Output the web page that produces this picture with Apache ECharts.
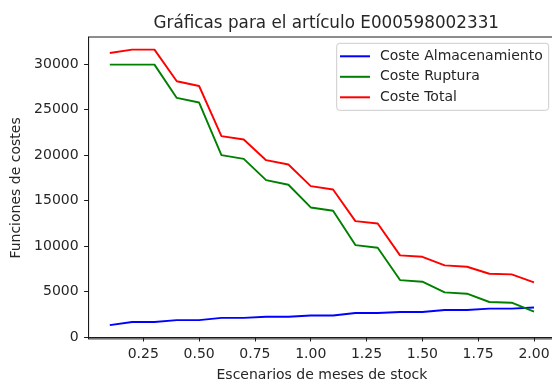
<!DOCTYPE html>
<html>
<head>
<meta charset="utf-8">
<script src="https://cdn.jsdelivr.net/npm/echarts@6/dist/echarts.min.js"></script>
<style>
  html, body { margin: 0; padding: 0; background: #ffffff; }
  #chart { width: 552px; height: 381px; }
</style>
</head>
<body>
<div id="chart"></div>
<script>
// Stock-month scenarios (x) and the three cost curves
const scenarios = [0.1, 0.2, 0.3, 0.4, 0.5, 0.6, 0.7, 0.8, 0.9, 1.0,
                   1.1, 1.2, 1.3, 1.4, 1.5, 1.6, 1.7, 1.8, 1.9, 2.0];
const costeAlmacenamiento = [1300, 1650, 1650, 1850, 1850, 2100, 2100, 2220, 2220, 2360,
                             2360, 2640, 2640, 2750, 2750, 2970, 2970, 3120, 3120, 3250];
const costeRuptura = [29960, 29960, 29960, 26300, 25790, 20000, 19590, 17250, 16750, 14250,
                      13880, 10110, 9810, 6260, 6080, 4910, 4760, 3850, 3770, 2780];
const costeTotal = [31240, 31610, 31610, 28130, 27610, 22090, 21720, 19450, 18980, 16590,
                    16230, 12750, 12490, 8980, 8820, 7880, 7730, 6960, 6890, 6010];

const titleText = 'Gráficas para el artículo E000598002331';
const xLabel = 'Escenarios de meses de stock';
const yLabel = 'Funciones de costes';

const FONT = 'DejaVu Sans';
const INK = '#262626';
const SPINE = '#1a1a1a';

function pairs(values) {
  return scenarios.map((x, i) => [x, values[i]]);
}

function lineSeries(name, values, color) {
  return {
    name: name,
    type: 'line',
    data: pairs(values),
    symbol: 'none',
    lineStyle: { color: color, width: 1.9 },
    itemStyle: { color: color },
    emphasis: { disabled: true },
    animation: false
  };
}

const chart = echarts.init(document.getElementById('chart'), null, { renderer: 'canvas' });

chart.setOption({
  backgroundColor: '#ffffff',
  animation: false,
  title: {
    text: titleText,
    left: 321.3,
    textAlign: 'center',
    top: 10,
    textStyle: { fontFamily: FONT, fontSize: 16.8, fontWeight: 'normal', color: INK }
  },
  legend: {
    orient: 'vertical',
    left: 336.7,
    top: 43.3,
    padding: [5, 6, 5, 3.3],
    itemWidth: 30,
    itemHeight: 2,
    itemGap: 4.5,
    icon: 'rect',
    borderColor: '#cccccc',
    borderWidth: 1,
    borderRadius: 3,
    backgroundColor: 'rgba(255,255,255,0.8)',
    textStyle: { fontFamily: FONT, fontSize: 14, color: INK, lineHeight: 16, padding: [0, 0, 0, 5] },
    data: ['Coste Almacenamiento', 'Coste Ruptura', 'Coste Total']
  },
  grid: {
    left: 88.6,
    top: 37,
    width: 466.6,
    height: 301.9,
    containLabel: false,
    outerBoundsMode: 'none',
    show: true,
    borderColor: SPINE,
    borderWidth: 1,
    backgroundColor: 'transparent'
  },
  xAxis: {
    type: 'value',
    min: 0.005,
    max: 2.095,
    minInterval: 0.25,
    maxInterval: 0.25,
    name: xLabel,
    nameLocation: 'middle',
    nameGap: 29,
    nameTextStyle: { fontFamily: FONT, fontSize: 14, color: INK },
    axisLine: { show: true, lineStyle: { color: SPINE, width: 1 } },
    axisTick: { show: true, length: 4.5, lineStyle: { color: SPINE, width: 1 } },
    axisLabel: {
      fontFamily: FONT, fontSize: 14, color: INK, margin: 8,
      showMinLabel: false, showMaxLabel: false,
      formatter: v => v.toFixed(2)
    },
    splitLine: { show: false }
  },
  yAxis: {
    type: 'value',
    min: -210,
    max: 33000,
    minInterval: 5000,
    maxInterval: 5000,
    name: yLabel,
    nameLocation: 'middle',
    nameGap: 63,
    nameTextStyle: { fontFamily: FONT, fontSize: 14, color: INK },
    axisLine: { show: true, lineStyle: { color: SPINE, width: 1 } },
    axisTick: { show: true, length: 4.5, lineStyle: { color: SPINE, width: 1 } },
    axisLabel: {
      fontFamily: FONT, fontSize: 14, color: INK, margin: 10,
      showMinLabel: false, showMaxLabel: false,
      formatter: v => String(v)
    },
    splitLine: { show: false }
  },
  series: [
    lineSeries('Coste Almacenamiento', costeAlmacenamiento, '#0000ff'),
    lineSeries('Coste Ruptura', costeRuptura, '#008000'),
    lineSeries('Coste Total', costeTotal, '#ff0000')
  ]
});
</script>
</body>
</html>
